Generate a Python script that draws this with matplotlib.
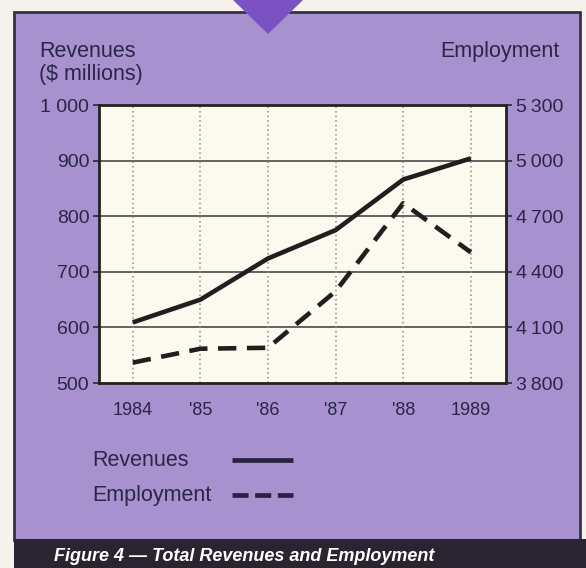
import matplotlib.pyplot as plt
import matplotlib.patches as patches
from matplotlib.lines import Line2D

# data
years = [1984, 1985, 1986, 1987, 1988, 1989]
year_labels = ["1984", "'85", "'86", "'87", "'88", "1989"]
revenues = [609, 650, 724, 775, 866, 904]
employment = [3910, 3985, 3990, 4295, 4770, 4505]

rev_ticks = [500, 600, 700, 800, 900, 1000]
rev_tick_labels = ["500", "600", "700", "800", "900", "1 000"]
emp_ticks = [3800, 4100, 4400, 4700, 5000, 5300]
emp_tick_labels = ["3\u2009800", "4\u2009100", "4\u2009400", "4\u2009700", "5\u2009000", "5\u2009300"]

W, H = 586, 568
PURPLE = "#a891cf"
DARK_PURPLE = "#7a52c2"
TEXT = "#2a2646"
BAND = "#2a2430"
PLOT_BG = "#fcf9ef"

plt.rcParams['font.family'] = ['Liberation Sans', 'DejaVu Sans']

fig = plt.figure(figsize=(W / 100, H / 100), dpi=100)
fig.patch.set_facecolor("#f6f3ec")


def fx(x):
    return x / W


def fy(y):
    return 1 - y / H


# purple panel with dark frame
fig.add_artist(patches.Rectangle((fx(14), fy(540)), fx(580) - fx(14), fy(12) - fy(540),
                                 transform=fig.transFigure, facecolor=PURPLE,
                                 edgecolor="#3a3044", linewidth=2, zorder=0))
# dark caption band
fig.add_artist(patches.Rectangle((fx(14), 0), 1 - fx(14), fy(539),
                                 transform=fig.transFigure, facecolor=BAND,
                                 edgecolor="none", zorder=1))
# pointer triangle at the top
fig.add_artist(patches.Polygon([(fx(233), fy(0)), (fx(303), fy(0)), (fx(268), fy(34))],
                               closed=True, transform=fig.transFigure,
                               facecolor=DARK_PURPLE, edgecolor="none", zorder=2))

ax = fig.add_axes([fx(99), fy(383), fx(506) - fx(99), fy(105) - fy(383)], zorder=3)
ax.set_facecolor(PLOT_BG)
ax.set_xlim(1983.5, 1989.52)
ax.set_ylim(500, 1000)
ax.set_yticks(rev_ticks)
ax.set_yticklabels(rev_tick_labels)
ax.set_xticks(years)
ax.set_xticklabels(year_labels)
ax.tick_params(axis='y', length=4, width=1.2, colors="#2a2a2a", labelcolor=TEXT,
               labelsize=14, pad=3)
ax.tick_params(axis='x', length=0, labelcolor=TEXT, labelsize=13, pad=14)
for sp in ax.spines.values():
    sp.set_linewidth(2)
    sp.set_color("#222222")

for v in rev_ticks[1:-1]:
    ax.axhline(v, color="#3a3a3a", linewidth=1.1, zorder=1)
for x in years:
    ax.axvline(x, color="#8a8a8a", linewidth=1.1, linestyle=(0, (1, 2)), zorder=1)

ax.plot(years, revenues, color="#1f1f1f", linewidth=3.3, solid_capstyle='butt', zorder=4)

ax2 = ax.twinx()
ax2.set_ylim(3800, 5300)
ax2.set_yticks(emp_ticks)
ax2.set_yticklabels(emp_tick_labels)
ax2.tick_params(axis='y', length=4, width=1.2, colors="#2a2a2a", labelcolor=TEXT,
                labelsize=14, pad=3)
for sp in ax2.spines.values():
    sp.set_visible(False)
ax2.plot(years, employment, color="#1f1f1f", linewidth=3.3, dashes=(4, 2.3), zorder=4)

# axis titles
fig.text(fx(39), fy(57), "Revenues", fontsize=15.5, color=TEXT, va='baseline')
fig.text(fx(39), fy(80), "($ millions)", fontsize=15.5, color=TEXT, va='baseline')
fig.text(fx(560), fy(57), "Employment", fontsize=15.5, color=TEXT, va='baseline', ha='right')

# legend
fig.text(fx(92), fy(466), "Revenues", fontsize=15.5, color=TEXT, va='baseline')
fig.text(fx(92), fy(501), "Employment", fontsize=15.5, color=TEXT, va='baseline')
fig.add_artist(Line2D([fx(232), fx(293)], [fy(460), fy(460)], transform=fig.transFigure,
                      color="#2a2240", linewidth=3.4, solid_capstyle='butt', zorder=5))
fig.add_artist(Line2D([fx(232), fx(293)], [fy(495), fy(495)], transform=fig.transFigure,
                      color="#2a2240", linewidth=3.4, dashes=(3.4, 1.4), zorder=5))

# caption
fig.text(fx(54), fy(561), "Figure 4 \u2014 Total Revenues and Employment", fontsize=13,
         color="white", fontweight='bold', fontstyle='italic', va='baseline', zorder=6)

fig.savefig("out.png", dpi=100, facecolor=fig.get_facecolor())
